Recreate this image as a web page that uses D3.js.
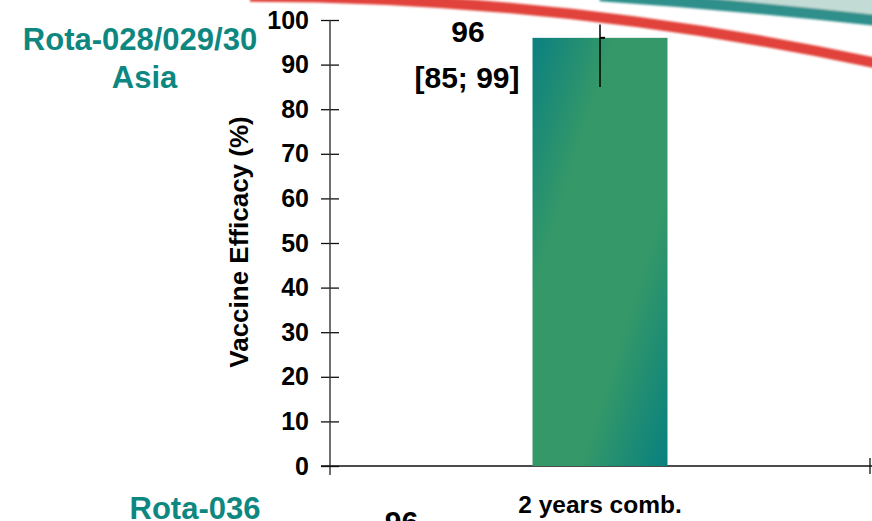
<!DOCTYPE html>
<html>
<head>
<meta charset="utf-8">
<script src="https://cdn.jsdelivr.net/npm/d3@7"></script>
<style>
  html, body { margin: 0; padding: 0; background: #ffffff; }
  svg { display: block; }
  text { font-family: "Liberation Sans", Arial, sans-serif; font-weight: bold; }
</style>
</head>
<body>
<svg id="chart" width="872" height="521"></svg>
<script>
// ---- data ----
const categories = ["2 years comb."];
const efficacy = [96];
const ciLower = [85];
const ciUpper = [99];
const yTicks = [0, 10, 20, 30, 40, 50, 60, 70, 80, 90, 100];
const studyTitle = ["Rota-028/029/30", "Asia"];
const nextStudyTitle = "Rota-036";
const nextStudyValue = "96";
const yAxisTitle = "Vaccine Efficacy (%)";

// ---- setup ----
const W = 872, H = 521;
const svg = d3.select("#chart");
const defs = svg.append("defs");

const teal = "#0e8781";
const grad = defs.append("linearGradient")
  .attr("id", "barGrad")
  .attr("x1", 0).attr("y1", 0).attr("x2", 1).attr("y2", 1);
grad.append("stop").attr("offset", 0).attr("stop-color", "#0b8080");
grad.append("stop").attr("offset", 0.3).attr("stop-color", "#349868");
grad.append("stop").attr("offset", 0.68).attr("stop-color", "#349868");
grad.append("stop").attr("offset", 1).attr("stop-color", "#088080");

const blur = defs.append("filter").attr("id", "soft").attr("x", "-5%").attr("y", "-50%").attr("width", "110%").attr("height", "200%");
blur.append("feGaussianBlur").attr("stdDeviation", 0.8);

// ---- background swoosh (slide template decoration) ----
const deco = svg.append("g").attr("filter", "url(#soft)");
deco.append("path")
  .attr("d", "M600,-4.3 Q750,5.7 900,23.2 L900,-10 L600,-10 Z")
  .attr("fill", "#c3dbd5");
deco.append("path")
  .attr("d", "M600,-4.3 Q750,5.7 900,23.2")
  .attr("fill", "none").attr("stroke", "#2f8f8b").attr("stroke-width", 11);
deco.append("path")
  .attr("d", "M250,-3.5 Q580,-3 900,68.4")
  .attr("fill", "none").attr("stroke", "#e1423a").attr("stroke-width", 10.5);

// ---- scales ----
const x = d3.scaleBand().domain(categories).range([330, 870]).padding(0);
const y = d3.scaleLinear().domain([0, 100]).range([466, 20]);
const barW = x.bandwidth() * 0.25;

// ---- y axis ----
const yAxis = d3.axisLeft(y).tickValues(yTicks).tickSize(9).tickPadding(12);
const gy = svg.append("g").attr("transform", "translate(330,0)").call(yAxis);
gy.select(".domain").remove();
gy.append("line").attr("x1", 0).attr("x2", 0).attr("y1", y(100)).attr("y2", y(0) + 9)
  .attr("stroke", "#333").attr("stroke-width", 1.4);
gy.selectAll(".tick line").attr("x1", -9).attr("x2", 9).attr("stroke", "#111").attr("stroke-width", 1.3);
gy.selectAll(".tick text")
  .attr("font-size", 25).attr("fill", "#000")
  .style("font-family", "'Liberation Sans', Arial, sans-serif").style("font-weight", "bold");

// ---- x axis ----
const gx = svg.append("g");
gx.append("line").attr("x1", 321).attr("x2", 872).attr("y1", y(0)).attr("y2", y(0))
  .attr("stroke", "#111").attr("stroke-width", 1.3);
gx.selectAll("line.edge").data(x.range().slice(1)).enter().append("line")
  .attr("class", "edge")
  .attr("x1", d => d).attr("x2", d => d).attr("y1", y(0) - 8).attr("y2", y(0) + 8)
  .attr("stroke", "#111").attr("stroke-width", 1.3);
gx.selectAll("text.cat").data(categories).enter().append("text")
  .attr("class", "cat")
  .attr("x", d => x(d) + x.bandwidth() / 2).attr("y", 513)
  .attr("text-anchor", "middle").attr("font-size", 24.5).attr("fill", "#000")
  .text(d => d);

// ---- bars ----
svg.selectAll("rect.bar").data(categories).enter().append("rect")
  .attr("class", "bar")
  .attr("x", d => x(d) + x.bandwidth() / 2 - barW / 2)
  .attr("width", barW)
  .attr("y", (d, i) => y(efficacy[i]))
  .attr("height", (d, i) => y(0) - y(efficacy[i]))
  .attr("fill", "url(#barGrad)");

// ---- error bars ----
svg.selectAll("line.err").data(categories).enter().append("line")
  .attr("class", "err")
  .attr("x1", d => x(d) + x.bandwidth() / 2).attr("x2", d => x(d) + x.bandwidth() / 2)
  .attr("y1", (d, i) => y(ciUpper[i])).attr("y2", (d, i) => y(ciLower[i]))
  .attr("stroke", "#000").attr("stroke-width", 1.5);
svg.selectAll("line.errmark").data(categories).enter().append("line")
  .attr("class", "errmark")
  .attr("x1", d => x(d) + x.bandwidth() / 2).attr("x2", d => x(d) + x.bandwidth() / 2 + 5)
  .attr("y1", (d, i) => y(efficacy[i])).attr("y2", (d, i) => y(efficacy[i]))
  .attr("stroke", "#000").attr("stroke-width", 2);

// ---- value annotation ----
svg.append("text").attr("x", 468).attr("y", 42).attr("text-anchor", "middle")
  .attr("font-size", 30).attr("fill", "#000").text(efficacy[0]);
svg.append("text").attr("x", 467).attr("y", 88).attr("text-anchor", "middle")
  .attr("font-size", 30).attr("fill", "#000").text(`[${ciLower[0]}; ${ciUpper[0]}]`);

// ---- y axis title ----
svg.append("text").attr("transform", "translate(248,242) rotate(-90)")
  .attr("text-anchor", "middle").attr("font-size", 26).attr("fill", "#000").text(yAxisTitle);

// ---- study titles ----
svg.append("text").attr("x", 140).attr("y", 50).attr("text-anchor", "middle")
  .attr("font-size", 31).attr("fill", teal).text(studyTitle[0]);
svg.append("text").attr("x", 144.5).attr("y", 88).attr("text-anchor", "middle")
  .attr("font-size", 31).attr("fill", teal).text(studyTitle[1]);
svg.append("text").attr("x", 195).attr("y", 519).attr("text-anchor", "middle")
  .attr("font-size", 31).attr("fill", teal).text(nextStudyTitle);
svg.append("text").attr("x", 401.5).attr("y", 532).attr("text-anchor", "middle")
  .attr("font-size", 30).attr("fill", "#000").text(nextStudyValue);
</script>
</body>
</html>
